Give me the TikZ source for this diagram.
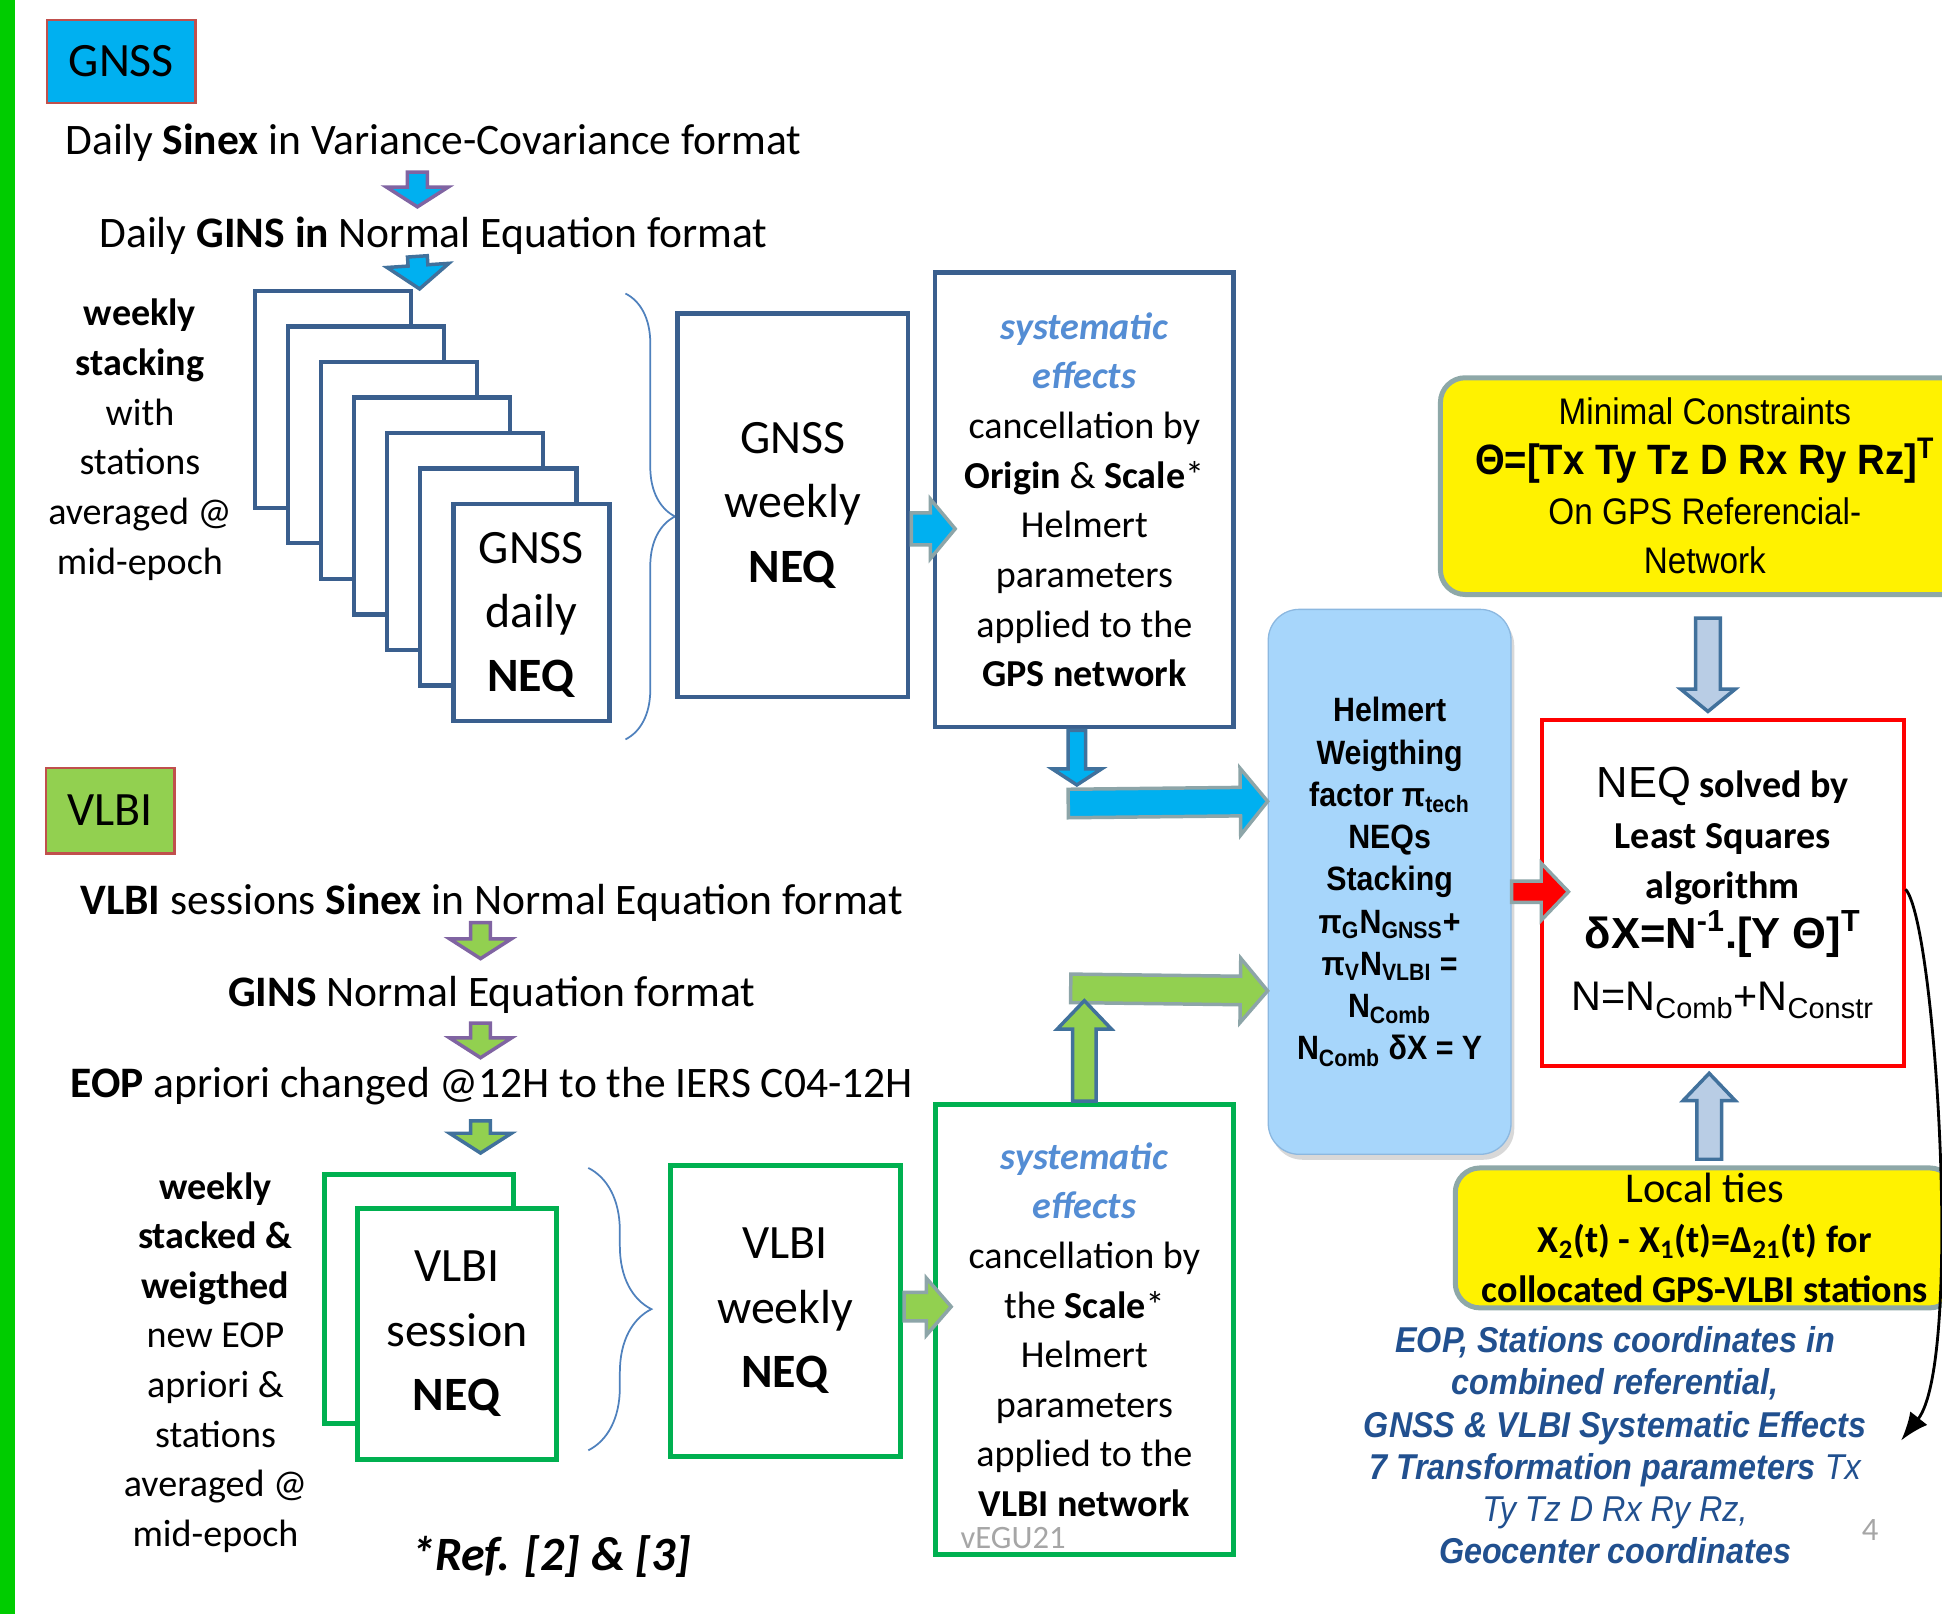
\documentclass[tikz,border=0pt]{standalone}
\usepackage{fontspec}
\setmainfont{Carlito}
\newfontfamily\arial{Liberation Sans}
\newfontfamily\arialn[FakeStretch=0.9]{Liberation Sans}
\usetikzlibrary{calc,shadows,decorations.pathreplacing,arrows.meta}

\definecolor{barGreen}{HTML}{00CC00}
\definecolor{gnssCyan}{HTML}{00B0F0}
\definecolor{vlbiGreen}{HTML}{92D050}
\definecolor{labelRed}{HTML}{C0504D}
\definecolor{gnssBlue}{HTML}{3A5F8E}
\definecolor{boxGreen}{HTML}{00B050}
\definecolor{softBlue}{HTML}{4F81BD}
\definecolor{fxBlue}{HTML}{548DD4}
\definecolor{tipGrey}{HTML}{8DA5A8}
\definecolor{tipPurple}{HTML}{8064A2}
\definecolor{tipBlue}{HTML}{41719C}
\definecolor{paleBlue}{HTML}{B9CDE5}
\definecolor{helmFill}{HTML}{A7D6FB}
\definecolor{helmLine}{HTML}{8CB8E0}
\definecolor{yBorder}{HTML}{8EA8A8}
\definecolor{noteBlue}{HTML}{21508F}
\definecolor{slideGrey}{HTML}{A6A6A6}

% one picture unit is 0.2mm
\def\pxu{0.569055}

\tikzset{
  bashaft/.store in=\bashaft, bahead/.store in=\bahead, balen/.store in=\balen,
  bashaft=8, bahead=25, balen=16,
  blockarrow/.style={line width=1.6pt, line join=miter, miter limit=10},
}

% block arrow from #2 to #3
\newcommand\blockarrow[3][]{%
  \path[blockarrow,#1] let \p1=#2, \p2=#3,
    \n1={veclen(\x2-\x1,\y2-\y1)}, \n2={(\x2-\x1)/\n1}, \n3={(\y2-\y1)/\n1},
    \n4={\bashaft*\pxu}, \n5={\bahead*\pxu}, \n6={\balen*\pxu} in
    ({\x1-\n3*\n4},{\y1+\n2*\n4})
    -- ({\x2-\n2*\n6-\n3*\n4},{\y2-\n3*\n6+\n2*\n4})
    -- ({\x2-\n2*\n6-\n3*\n5},{\y2-\n3*\n6+\n2*\n5})
    -- (\x2,\y2)
    -- ({\x2-\n2*\n6+\n3*\n5},{\y2-\n3*\n6-\n2*\n5})
    -- ({\x2-\n2*\n6+\n3*\n4},{\y2-\n3*\n6-\n2*\n4})
    -- ({\x1+\n3*\n4},{\y1-\n2*\n4}) -- cycle;}

\newcommand\sysfx[1]{\textcolor{fxBlue}{\bfseries\itshape #1}}

\begin{document}
\begin{tikzpicture}[x=0.2mm, y=-0.2mm,
  wh/.style 2 args={minimum width=#1*0.2mm, minimum height=#2*0.2mm},
  txt/.style={inner sep=0, align=center, font=\fontsize{17.5}{22.8}\selectfont},
  row/.style={inner sep=0, font=\fontsize{20}{24}\selectfont},
  big/.style={inner sep=0, align=center, font=\fontsize{22}{29.6}\selectfont},
  tag/.style={draw=labelRed, line width=1.1pt, inner sep=0, font=\fontsize{22}{26}\selectfont},
  page/.style={draw=gnssBlue, line width=2pt, fill=white, inner sep=0},
  vpage/.style={draw=boxGreen, line width=2.3pt, fill=white, inner sep=0},
  curly/.style={draw=softBlue, line width=0.8pt, decorate, decoration={brace, amplitude=#1}},
  ybox/.style={draw=yBorder, line width=2.3pt, fill=yellow, rounded corners=4mm, inner sep=0, align=center},
  helm/.style={draw=helmLine, line width=0.6pt, fill=helmFill, rounded corners=5mm, inner sep=0, align=center,
    drop shadow={opacity=0.3, shadow xshift=1.5pt, shadow yshift=-2.5pt},
    font=\arialn\bfseries\fontsize{15.5}{19.4}\selectfont},
  redbox/.style={draw=red, line width=1.8pt, fill=white, inner sep=0, align=center},
  note/.style={inner sep=0, align=center, text=noteBlue, font=\arialn\bfseries\itshape\fontsize{16.5}{19.4}\selectfont}
]
\useasboundingbox (0,0) rectangle (1568,1303);
\clip (0,0) rectangle (1568,1303);
\fill[white] (0,0) rectangle (1568,1303);
\fill[barGreen] (0,0) rectangle (12,1303);

% GNSS branch
\node[tag, fill=gnssCyan, wh={120}{67}] (gnss) at (98,49.5) {GNSS};
\node[row] (gDaily) at (350,115) {Daily \textbf{Sinex} in Variance-Covariance format};
\node[row] (gGins) at (350,190) {Daily \textbf{GINS in} Normal Equation format};

\foreach \i in {0,...,6}
  \node[page, wh={126}{175}] (p\i) at ({269+26.67*\i},{322.5+28.67*\i}) {};
\node[big] (dailyG) at ($(p6.center)+(0,2)$) {GNSS\\daily\\\textbf{NEQ}};

\node[txt] (stackG) at (113,355) {\textbf{weekly}\\\textbf{stacking}\\with\\stations\\averaged @\\mid-epoch};
\draw[curly=22.8pt] (505,237) -- (505,597);

\node[page, big, wh={186}{310}] (weekG) at (640,408) {GNSS\\weekly\\\textbf{NEQ}};
\node[page, txt, wh={241}{367}] (sysG) at (875.5,403.5) {\sysfx{systematic}\\\sysfx{effects}\\cancellation by\\
  \textbf{Origin} \& \textbf{Scale}*\\Helmert\\parameters\\applied to the\\\textbf{GPS network}};

% VLBI branch
\node[tag, fill=vlbiGreen, wh={104}{69}] (vlbi) at (89,654.5) {VLBI};
\node[row] (vSinex) at (397,729) {\textbf{VLBI} sessions \textbf{Sinex} in Normal Equation format};
\node[row] (vGins) at (397,803) {\textbf{GINS} Normal Equation format};
\node[row] (vEop) at (397,877) {\textbf{EOP} apriori changed @12H to the IERS C04-12H};

\node[vpage, wh={153}{201}] (s0) at (338.5,1048.5) {};
\node[vpage, big, wh={160}{202}] (s1) at (369,1077) {VLBI\\session\\\textbf{NEQ}};
\node[txt] (stackV) at (174,1100) {\textbf{weekly}\\\textbf{stacked \&}\\\textbf{weigthed}\\new EOP\\apriori \&\\stations\\averaged @\\mid-epoch};
\draw[curly=29pt] (475,943) -- (475,1171);

\node[vpage, big, wh={186}{235}] (weekV) at (634,1058.5) {VLBI\\weekly\\\textbf{NEQ}};
\node[vpage, txt, wh={241}{363}] (sysV) at (875.5,1073.5) {\sysfx{systematic}\\\sysfx{effects}\\cancellation by\\
  the \textbf{Scale}*\\Helmert\\parameters\\applied to the\\\textbf{VLBI network}};

\node[inner sep=0, font=\bfseries\itshape\fontsize{22}{26}\selectfont] (refs) at (445,1257) {*Ref. [2] \& [3]};
\node[inner sep=0, text=slideGrey, font=\fontsize{15}{18}\selectfont] (egu) at (818,1242) {vEGU21};
\node[inner sep=0, text=slideGrey, font=\fontsize{15}{18}\selectfont] (pnum) at (1510,1235) {4};

% combination
\node[helm, wh={196}{440}] (helm) at (1122,712) {Helmert\\Weigthing\\factor π\textsubscript{tech}\\NEQs\\Stacking\\
  π\textsubscript{G}N\textsubscript{GNSS}+\\π\textsubscript{V}N\textsubscript{VLBI} =\\N\textsubscript{Comb}\\N\textsubscript{Comb} δX = Y};

\node[redbox, txt, wh={292}{280}] (neq) at (1391,721) {{\arial\fontsize{20}{22}\selectfont NEQ} \textbf{solved by}\\[1pt]
  \textbf{Least Squares}\\\textbf{algorithm}\\
  {\arial\bfseries\fontsize{20}{22}\selectfont δX=N\textsuperscript{-1}.[Y Θ]\textsuperscript{T}}\\[6pt]
  {\arial\fontsize{19}{22}\selectfont N=N\textsubscript{Comb}+N\textsubscript{Constr}}};

\node[ybox, wh={427}{175}, font=\arialn\fontsize{17}{22.8}\selectfont] (minc) at (1376.5,392.5) {Minimal Constraints\\
  {\bfseries\fontsize{19.5}{22.8}\selectfont Θ=[Tx Ty Tz D Rx Ry Rz]\textsuperscript{T}}\\On GPS Referencial-\\Network};
\node[ybox, txt, wh={403}{113}] (ties) at (1376.5,999.5) {{\fontsize{19.5}{22.8}\selectfont Local ties}\\
  \textbf{X\textsubscript{2}(t) - X\textsubscript{1}(t)=Δ\textsubscript{21}(t) for}\\\textbf{collocated GPS-VLBI stations}};

\node[note] (res) at (1304,1167) {EOP, Stations coordinates in\\combined referential,\\GNSS \& VLBI Systematic Effects\\
  7 Transformation parameters {\mdseries Tx}\\{\mdseries Ty Tz D Rx Ry Rz,}\\Geocenter coordinates};

% block arrows
\blockarrow[draw=tipPurple, fill=gnssCyan]{($(gDaily.center)+(-13,24)$)}{($(gGins.center)+(-13,-23)$)}
\blockarrow[draw=tipBlue, fill=gnssCyan, balen=19]{($(gGins.center)+(-13,17)$)}{($(p0.north east)+(5,0)$)}
\blockarrow[draw=tipGrey, fill=gnssCyan, bashaft=13, bahead=24, balen=20]{($(weekG.east)+(1,19)$)}{($(sysG.west)+(18,23.5)$)}
\blockarrow[draw=tipGrey, fill=gnssCyan, bashaft=11.5, bahead=27, balen=22]{($(sysG.south)+(-13,60)$)}{($(helm.west)+(0,-65)$)}
\blockarrow[draw=tipBlue, fill=gnssCyan, bashaft=7, bahead=20, balen=13]{($(sysG.south)+(-6,1)$)}{($(sysG.south)+(-6,45)$)}

\blockarrow[draw=tipPurple, fill=vlbiGreen]{($(vSinex.center)+(-9,16)$)}{($(vGins.center)+(-9,-29)$)}
\blockarrow[draw=tipPurple, fill=vlbiGreen]{($(vGins.center)+(-9,23)$)}{($(vEop.center)+(-9,-23)$)}
\blockarrow[draw=tipBlue, fill=vlbiGreen]{($(vEop.center)+(-9,28)$)}{($(s0.north)+(49.5,-15)$)}
\blockarrow[draw=tipGrey, fill=vlbiGreen, bashaft=11.5, bahead=23, balen=20]{($(weekV.east)+(1,-3.5)$)}{($(sysV.west)+(15,-18.5)$)}
\blockarrow[draw=tipGrey, fill=vlbiGreen, bashaft=11.5, bahead=26, balen=22]{($(sysV.north)+(-11,-92)$)}{($(helm.west)+(0,88)$)}
\blockarrow[draw=tipBlue, fill=vlbiGreen, bashaft=9.5, bahead=22, balen=23]{($(sysV.north)+(0,-1)$)}{($(sysV.north)+(0,-82)$)}

\blockarrow[draw=tipGrey, fill=red, bashaft=8.5, bahead=23, balen=22]{($(helm.east)+(0,8)$)}{($(neq.west)+(23,-1)$)}
\blockarrow[draw=tipBlue, fill=paleBlue, bashaft=10, bahead=22, balen=18]{($(minc.south)+(2.5,17)$)}{($(neq.north)+(-12,-5)$)}
\blockarrow[draw=tipBlue, fill=paleBlue, bashaft=10, bahead=21, balen=22]{($(ties.north)+(3.5,-5)$)}{($(neq.south)+(-11,4)$)}

\coordinate (back) at (1535,1163);
\draw[line width=1.3pt, -{Latex[length=13pt,width=10pt]}] ($(neq.east)+(0,-3)$) .. controls (1563,745) and (1585,1100) .. (back);
\end{tikzpicture}
\end{document}
